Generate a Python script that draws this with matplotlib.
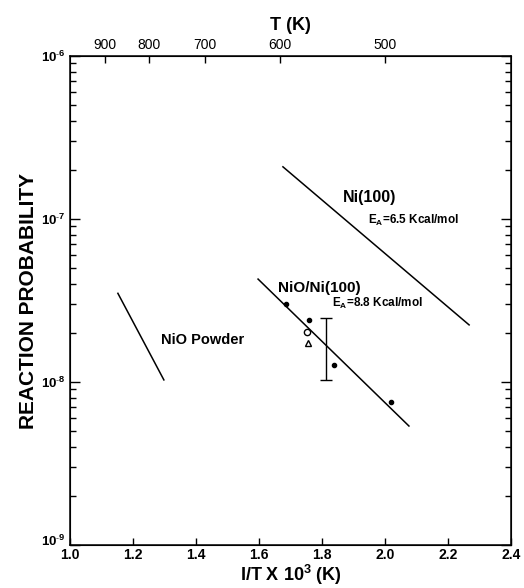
import numpy as np
import matplotlib
matplotlib.use("Agg")
import matplotlib.pyplot as plt
from matplotlib.ticker import LogLocator, NullFormatter
from matplotlib.transforms import ScaledTranslation

plt.rcParams['font.family'] = ['Liberation Sans', 'DejaVu Sans']
plt.rcParams['mathtext.fontset'] = 'custom'
plt.rcParams['mathtext.rm'] = 'Liberation Sans:bold'
plt.rcParams['mathtext.bf'] = 'Liberation Sans:bold'
plt.rcParams['mathtext.it'] = 'Liberation Sans:bold'

# ---- data ----
ni100_x = [1.676, 2.267]
ni100_y = [2.09e-7, 2.24e-8]
nio_ni_x = [1.597, 2.076]
nio_ni_y = [4.28e-8, 5.37e-9]
powder_x = [1.152, 1.298]
powder_y = [3.5e-8, 1.03e-8]
filled_x = [1.686, 1.759, 1.838, 2.019]
filled_y = [3.0e-8, 2.4e-8, 1.27e-8, 7.5e-9]
open_x = [1.752]
open_y = [2.03e-8]
tri_x = [1.756]
tri_y = [1.73e-8]
err_x = [1.812]
err_lo = [1.03e-8]
err_hi = [2.47e-8]
bottom_ticks = [1.0, 1.2, 1.4, 1.6, 1.8, 2.0, 2.2, 2.4]
top_T = [900, 800, 700, 600, 500]
y_decades = [1e-9, 1e-8, 1e-7, 1e-6]
y_exponents = ['9', '8', '7', '6']

fig = plt.figure(figsize=(5.24, 5.88), dpi=100)
ax = fig.add_axes([70/524, 1 - 545/588, (511 - 70)/524, (545 - 56)/588])

ax.plot(ni100_x, ni100_y, color='black', lw=1.1)
ax.plot(nio_ni_x, nio_ni_y, color='black', lw=1.1)
ax.plot(powder_x, powder_y, color='black', lw=1.1)
ax.plot(filled_x, filled_y, 'o', color='black', ms=3)
ax.plot(open_x, open_y, 'o', mfc='white', mec='black', ms=4.5, mew=1)
ax.plot(tri_x, tri_y, '^', mfc='white', mec='black', ms=5, mew=1)
ymid = [np.sqrt(err_lo[0] * err_hi[0])]
ax.errorbar(err_x, ymid, yerr=[[ymid[0] - err_lo[0]], [err_hi[0] - ymid[0]]],
            fmt='none', ecolor='black', elinewidth=1, capsize=4, capthick=1)

ax.set_yscale('log')
ax.set_xlim(1.0, 2.4)
ax.set_ylim(1e-9, 1e-6)
ax.set_xticks(bottom_ticks)
ax.set_xticklabels([f'{v:.1f}' for v in bottom_ticks], fontweight='bold', fontsize=10)
ax.set_yticks(y_decades)
ax.set_yticklabels([r'$10^{\mathrm{‑' + e + r'}}$' for e in y_exponents], fontsize=9.5)
ax.yaxis.set_minor_locator(LogLocator(base=10, subs=np.arange(2, 10)))
ax.yaxis.set_minor_formatter(NullFormatter())
ax.tick_params(axis='both', which='both', direction='in', top=False, right=True)
ax.tick_params(axis='y', which='major', length=7, width=1, pad=3)
ax.tick_params(axis='y', which='minor', length=4, width=1)
ax.tick_params(axis='x', which='major', length=5, width=1, pad=2)
for s in ax.spines.values():
    s.set_linewidth(1.1)

# nudge the lowest y label up a little so it does not collide with "1.0"
low_lbl = ax.get_yticklabels()[0]
low_lbl.set_transform(low_lbl.get_transform() + ScaledTranslation(0, 5/100, fig.dpi_scale_trans))

ax2 = ax.twiny()
ax2.set_xlim(ax.get_xlim())
ax2.set_xticks([1000.0 / t for t in top_T])
ax2.set_xticklabels([str(t) for t in top_T], fontsize=10)
ax2.tick_params(axis='x', direction='in', length=5, width=1, pad=3)
ax2.set_xlabel('T (K)', fontsize=13, fontweight='bold', labelpad=6)

fig.text((70 + 511) / 2 / 524, 0.002, r'I/T X 10$^{3}$ (K)', fontsize=13,
         fontweight='bold', ha='center', va='bottom')
ax.set_ylabel('REACTION PROBABILITY', fontsize=15, fontweight='bold', labelpad=2)

ax.text(1.865, 1.28e-7, 'Ni(100)', fontsize=11.5, fontweight='bold')
ax.text(1.946, 9.3e-8, r'E$_{A}$=6.5 Kcal/mol', fontsize=8.5, fontweight='bold')
ax.text(1.66, 3.55e-8, 'NiO/Ni(100)', fontsize=11, fontweight='bold')
ax.text(1.832, 2.9e-8, r'E$_{A}$=8.8 Kcal/mol', fontsize=8.5, fontweight='bold')
ax.text(1.29, 1.7e-8, 'NiO Powder', fontsize=10.5, fontweight='bold')

fig.savefig('out.png', dpi=100)
